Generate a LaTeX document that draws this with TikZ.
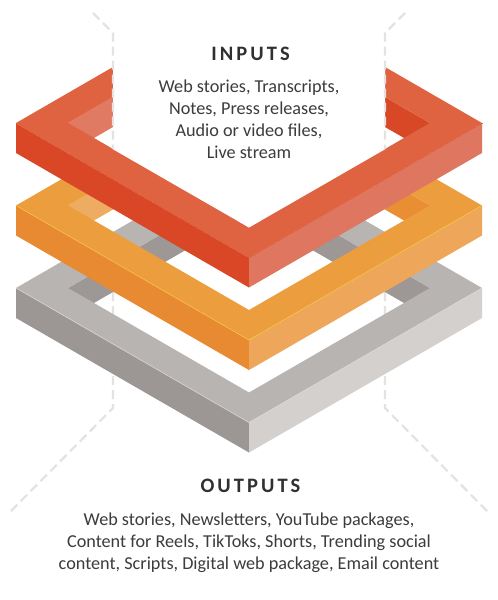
\documentclass[tikz,border=0pt]{standalone}
\usepackage{fontspec}
\setmainfont{Carlito}
\definecolor{redT}{HTML}{DF6340}
\definecolor{redL}{HTML}{D94727}
\definecolor{redR}{HTML}{DE7660}
\definecolor{redWL}{HTML}{E07A62}
\definecolor{redWR}{HTML}{D84826}
\definecolor{orT}{HTML}{EC9E3F}
\definecolor{orL}{HTML}{E88A32}
\definecolor{orR}{HTML}{EDA65A}
\definecolor{orWL}{HTML}{EEAC62}
\definecolor{orWR}{HTML}{E98E33}
\definecolor{orH}{HTML}{F6C445}
\definecolor{grT}{HTML}{B8B4B1}
\definecolor{grL}{HTML}{9C9794}
\definecolor{grR}{HTML}{D3D0CE}
\definecolor{grW}{HTML}{9D9895}
\definecolor{grH}{HTML}{DAD7D4}
\definecolor{dashc}{HTML}{E6E2DF}
\definecolor{txtc}{HTML}{3C3C3C}
\definecolor{headc}{HTML}{303030}
\newcommand\isoframe[8]{%
\begin{scope}[shift={(0,#1)}]
\fill[#5] (68,0)--(249,-104.5)--(249,-74.5)--(68,30)--cycle;
\fill[#6] (249,-104.5)--(430,0)--(430,30)--(249,-74.5)--cycle;
\fill[#2,even odd rule] (16,0)--(249,-134.5)--(482,0)--(249,134.5)--cycle (68,0)--(249,-104.5)--(430,0)--(249,104.5)--cycle;
\fill[#3] (16,0)--(249,134.5)--(249,164.5)--(16,30)--cycle;
\fill[#4] (249,134.5)--(482,0)--(482,30)--(249,164.5)--cycle;
\draw[#7,line width=#8] (16,0)--(249,134.5)--(482,0);
\end{scope}}
\tikzset{
  guide/.style={dashc,line width=2.2pt,dash pattern=on 9pt off 5pt},
  heading/.style={font=\fontsize{20.5}{24}\selectfont\bfseries\addfontfeature{LetterSpace=15},text=headc,anchor=base},
  bodytext/.style={font=\fontsize{18.2}{22}\selectfont,text=txtc,align=center,anchor=base}
}
\begin{document}
\begin{tikzpicture}[x=1pt,y=-1pt]
\useasboundingbox (0,0) rectangle (498,600);
\fill[white] (0,0) rectangle (498,600);
% lower guides
\coordinate (gl1) at (113,292);
\coordinate (gl2) at (113,408);
\coordinate (gl3) at (10,512);
\coordinate (gr1) at (385,292);
\coordinate (gr2) at (385,408);
\coordinate (gr3) at (488,512);
\draw[guide] (gl1)--(gl2)--(gl3);
\draw[guide] (gr1)--(gr2)--(gr3);
% frames
\isoframe{288}{grT}{grL}{grR}{grW}{grW}{grH}{0.6pt}
\isoframe{205.5}{orT}{orL}{orR}{orWL}{orWR}{orH}{0.6pt}
\isoframe{123}{redT}{redL}{redR}{redWL}{redWR}{redT}{0pt}
% white band
\fill[white] (113,0)--(385,0)--(385,149.3)--(249,227.5)--(113,149.3)--cycle;
% upper guides
\coordinate (ul1) at (93,13);
\coordinate (ul2) at (113,33);
\coordinate (ul3) at (113,149);
\coordinate (ur1) at (405,13);
\coordinate (ur2) at (385,33);
\coordinate (ur3) at (385,149);
\draw[guide] (ul1)--(ul2)--(ul3);
\draw[guide] (ur1)--(ur2)--(ur3);
% texts
\node[heading] (inputs) at (250.5,60) {INPUTS};
\node[bodytext] (intext) at (249,158.3) {Web stories, Transcripts,\\Notes, Press releases,\\Audio or video files,\\Live stream};
\node[heading] (outputs) at (250.5,492.7) {OUTPUTS};
\node[bodytext] (outtext) at (249,569) {Web stories, Newsletters, YouTube packages,\\Content for Reels, TikToks, Shorts, Trending social\\content, Scripts, Digital web package, Email content};
\end{tikzpicture}
\end{document}
